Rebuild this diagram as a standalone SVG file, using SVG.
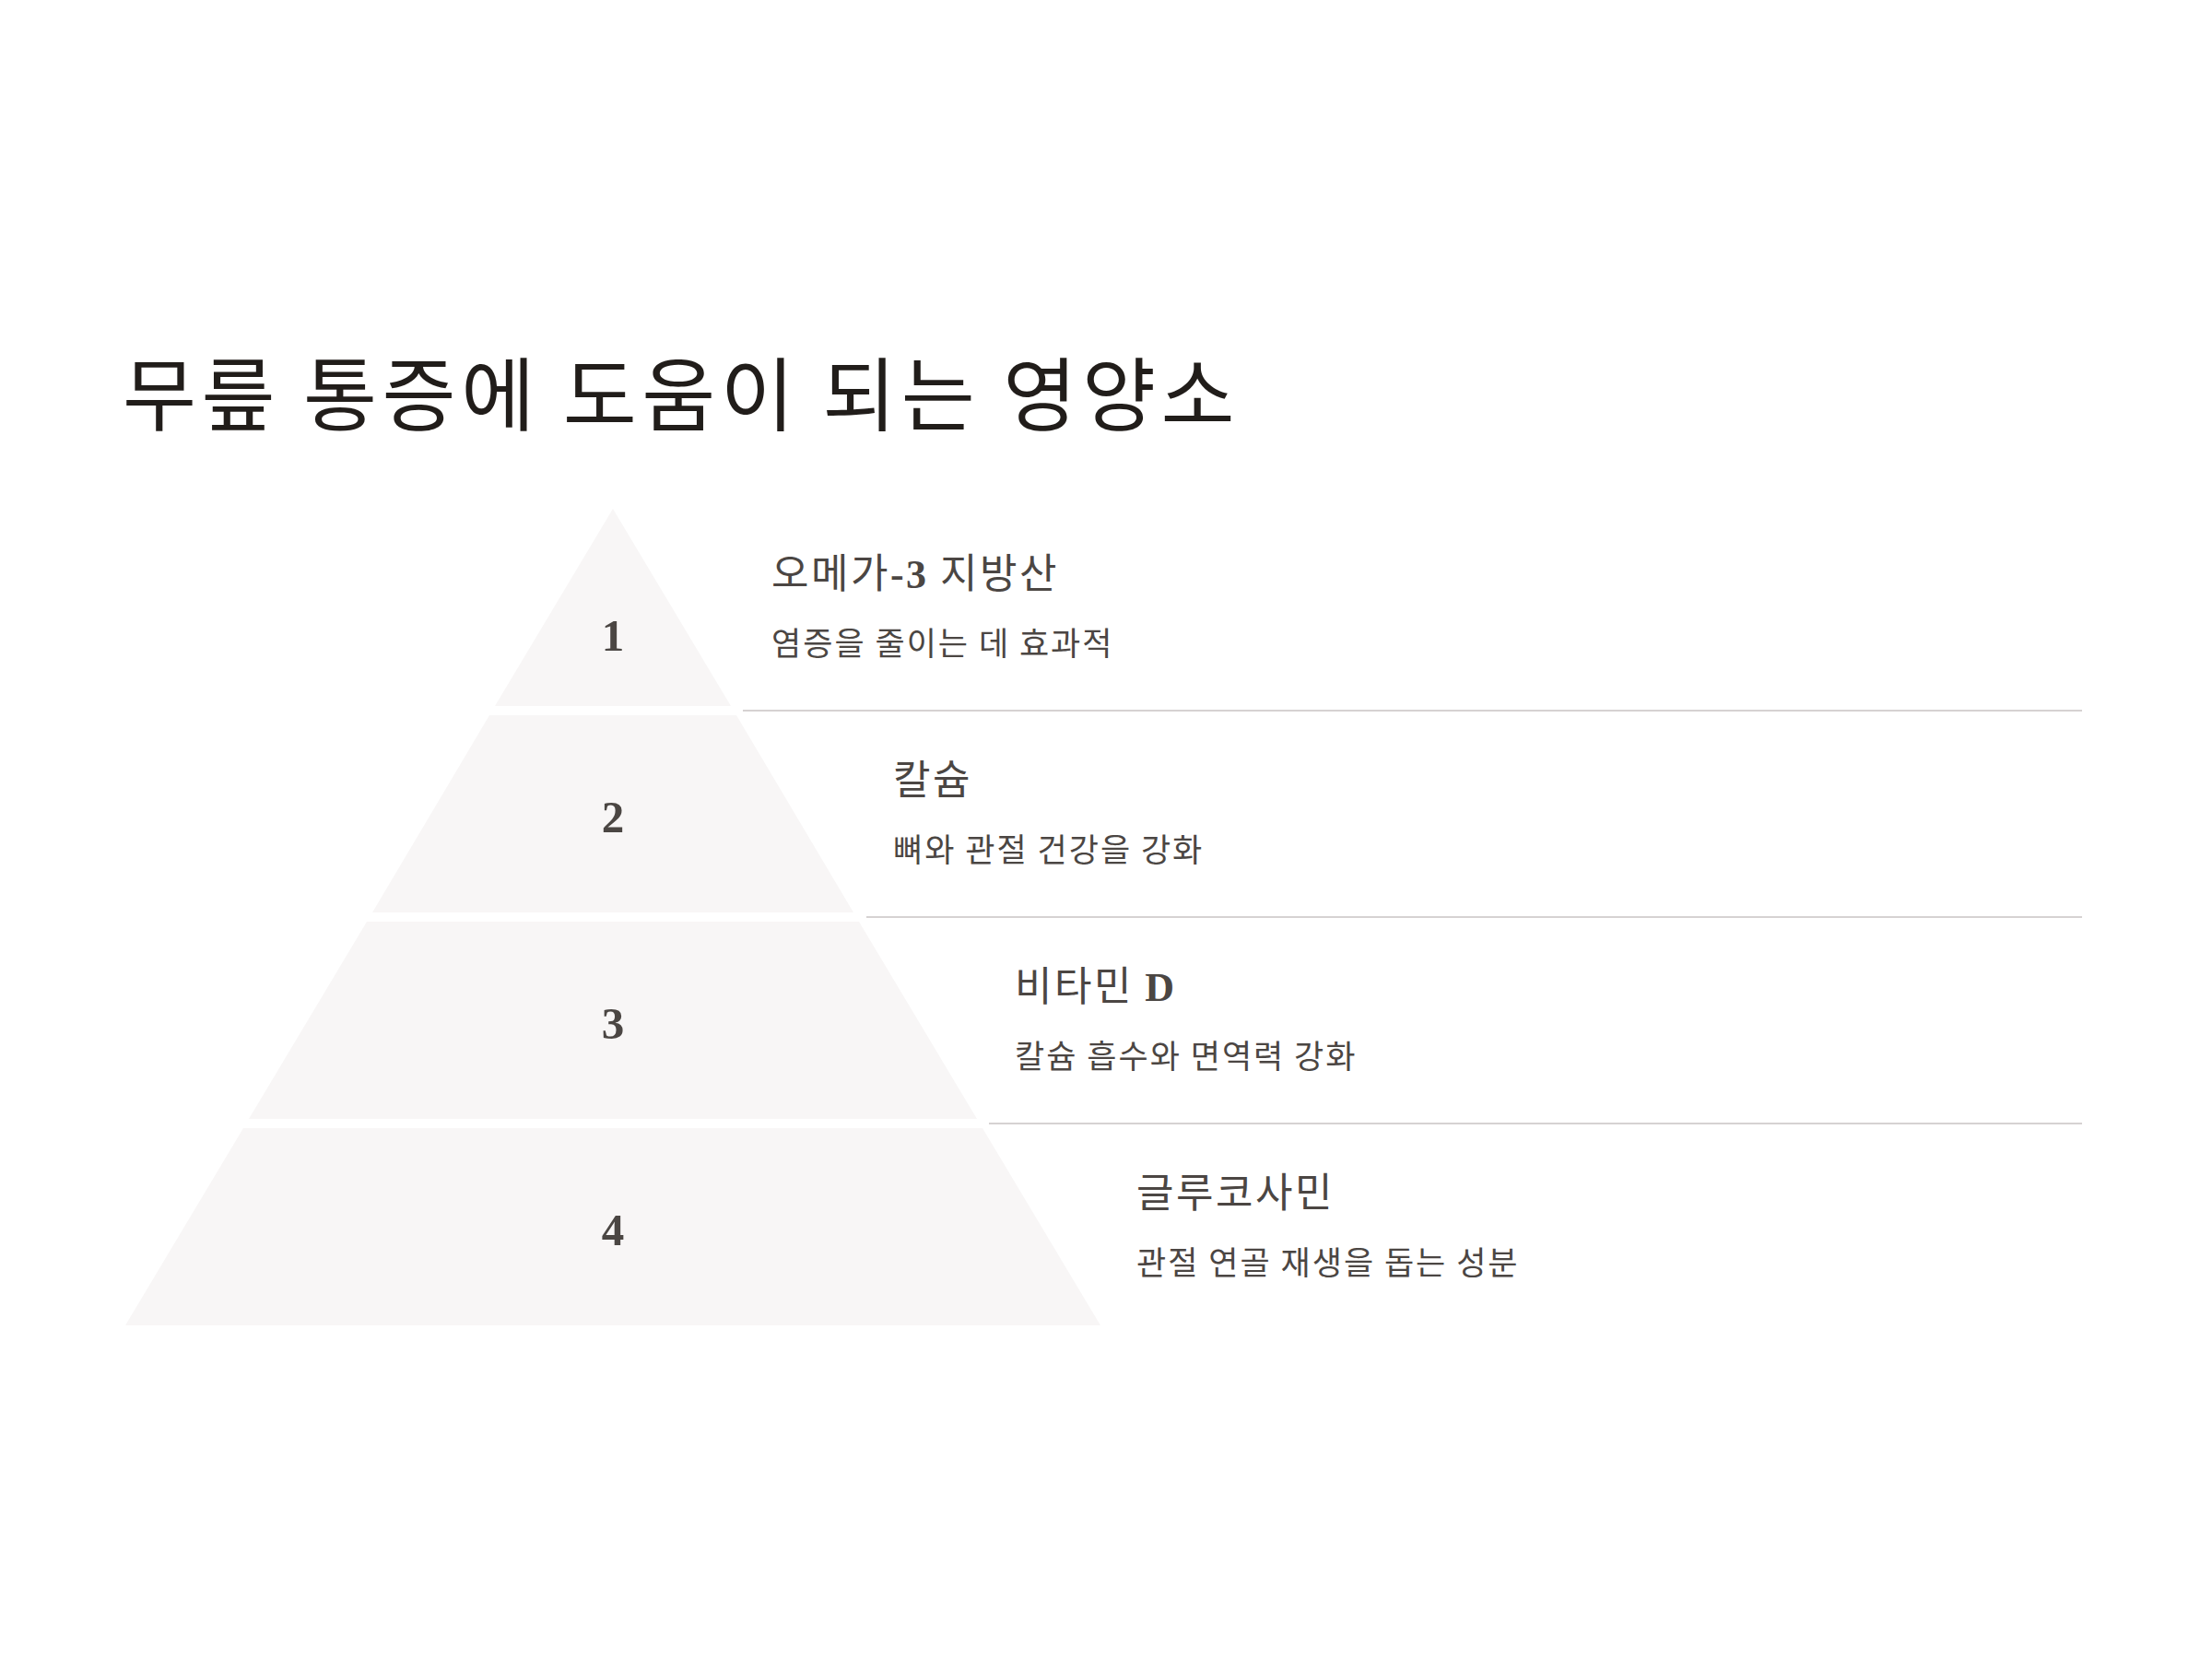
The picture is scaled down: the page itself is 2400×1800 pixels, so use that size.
<svg xmlns="http://www.w3.org/2000/svg" width="2400" height="1800" viewBox="0 0 2400 1800">
<style>
.bg{fill:#ffffff}
.tier{fill:#f8f6f6}
.sep{stroke:#d6d2d2;stroke-width:2;fill:none}
.h1{font-family:"Noto Sans CJK KR","Noto Sans",sans-serif;font-size:87px;letter-spacing:5.5px;fill:#211d1a}
.num{font-family:"Liberation Serif","Noto Sans CJK KR",serif;font-size:49px;font-weight:700;fill:#4b4643;text-anchor:middle}
.ttl{font-family:"Noto Sans CJK KR","Noto Sans",sans-serif;font-size:44px;letter-spacing:2.5px;fill:#4b4643}
.lat{font-family:"Liberation Serif",serif;font-weight:700}
.sub{font-family:"Noto Sans CJK KR","Noto Sans",sans-serif;font-size:35px;letter-spacing:2px;fill:#4b4643}
</style>
<rect class="bg" x="0" y="0" width="2400" height="1800"/>
<text id="title" class="h1" x="133" y="461">무릎 통증에 도움이 되는 영양소</text>
<g id="connectors">
<line class="sep" x1="806" y1="771" x2="2259" y2="771"/>
<line class="sep" x1="940" y1="995" x2="2259" y2="995"/>
<line class="sep" x1="1073" y1="1219" x2="2259" y2="1219"/>
</g>
<g id="tier1">
<polygon class="tier" points="665,552 793,766 537,766"/>
<text class="num" x="665" y="706">1</text>
<text class="ttl" x="837" y="638">오메가<tspan class="lat">-3</tspan> 지방산</text>
<text class="sub" x="837" y="711">염증을 줄이는 데 효과적</text>
</g>
<g id="tier2">
<polygon class="tier" points="531,776 799,776 926,990 404,990"/>
<text class="num" x="665" y="903">2</text>
<text class="ttl" x="969" y="862">칼슘</text>
<text class="sub" x="969" y="935">뼈와 관절 건강을 강화</text>
</g>
<g id="tier3">
<polygon class="tier" points="398,1000 932,1000 1060,1214 270,1214"/>
<text class="num" x="665" y="1127">3</text>
<text class="ttl" x="1101" y="1086">비타민 <tspan class="lat">D</tspan></text>
<text class="sub" x="1101" y="1159">칼슘 흡수와 면역력 강화</text>
</g>
<g id="tier4">
<polygon class="tier" points="264,1224 1066,1224 1194,1438 136,1438"/>
<text class="num" x="665" y="1351">4</text>
<text class="ttl" x="1233" y="1310">글루코사민</text>
<text class="sub" x="1233" y="1383">관절 연골 재생을 돕는 성분</text>
</g>
</svg>
